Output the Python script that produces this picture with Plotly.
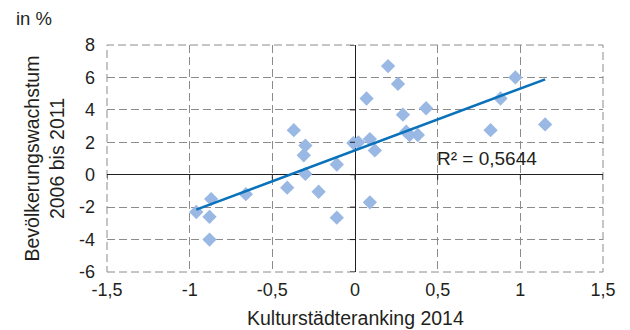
import numpy as np
import plotly.graph_objects as go

# Culture-city ranking score vs. population growth 2006–2011 (%)
ranking = [-0.96, -0.87, -0.88, -0.88, -0.66, -0.41, -0.37, -0.30, -0.31, -0.30,
           -0.22, -0.11, -0.11, -0.01, 0.02, 0.20, 0.26, 0.07, 0.43, 0.29,
           0.31, 0.33, 0.38, 0.09, 0.12, 0.09, 0.82, 0.88, 0.97, 1.15]
growth = [-2.3, -1.5, -2.6, -4.0, -1.2, -0.8, 2.75, 1.8, 1.2, 0.05,
          -1.05, 0.63, -2.65, 1.95, 2.0, 6.7, 5.6, 4.7, 4.1, 3.7,
          2.65, 2.45, 2.45, 2.2, 1.5, -1.7, 2.75, 4.7, 6.0, 3.1]

x_ticks = [-1.5, -1.0, -0.5, 0.0, 0.5, 1.0, 1.5]
x_tick_labels = ["-1,5", "-1", "-0,5", "0", "0,5", "1", "1,5"]
y_ticks = [-6, -4, -2, 0, 2, 4, 6, 8]
y_tick_labels = ["-6", "-4", "-2", "0", "2", "4", "6", "8"]
r2_label = "R² = 0,5644"

FONT = "Liberation Sans, Arial, sans-serif"
TXT = "#231f20"
GRID = "#8c8c8c"
DASH = "8px,4px"

# linear trend over the observed ranking range
slope, intercept = np.polyfit(ranking, growth, 1)
trend_x = np.array([min(ranking), max(ranking)])
trend_y = slope * trend_x + intercept

fig = go.Figure()
fig.add_trace(go.Scatter(
    x=ranking, y=growth, mode="markers",
    marker=dict(symbol="diamond", size=11, color="#9ab8e4", line=dict(width=0)),
    hoverinfo="skip", showlegend=False,
))
fig.add_trace(go.Scatter(
    x=trend_x, y=trend_y, mode="lines",
    line=dict(color="#0a72ba", width=2.5),
    hoverinfo="skip", showlegend=False,
))

# dashed frame around the plotting area
shapes = [dict(type="rect", xref="paper", yref="paper", x0=0, x1=1, y0=0, y1=1,
               line=dict(color=GRID, width=1, dash=DASH), layer="below")]
# small tick marks on the zero axes
for t in x_ticks:
    shapes.append(dict(type="line", xref="x", yref="y", x0=t, x1=t,
                       ysizemode="pixel", yanchor=0, y0=0, y1=-5,
                       line=dict(color=TXT, width=1)))
for t in y_ticks:
    shapes.append(dict(type="line", xref="x", yref="y", y0=t, y1=t,
                       xsizemode="pixel", xanchor=0, x0=0, x1=-5,
                       line=dict(color=TXT, width=1)))

grid_common = dict(
    showgrid=True, gridcolor=GRID, gridwidth=1, griddash=DASH,
    zeroline=True, zerolinecolor=TXT, zerolinewidth=1.3,
    showline=False, ticks="",
    tickfont=dict(family=FONT, size=18, color=TXT),
)

fig.update_layout(
    width=630, height=330,
    margin=dict(l=107, r=27, t=45, b=58),
    paper_bgcolor="white", plot_bgcolor="white",
    font=dict(family=FONT, color=TXT),
    xaxis=dict(range=[-1.5, 1.5], tickvals=x_ticks, ticktext=x_tick_labels,
               ticklabelstandoff=5, **grid_common),
    yaxis=dict(range=[-6, 8], tickvals=y_ticks, ticktext=y_tick_labels,
               ticklabelstandoff=11, **grid_common),
    shapes=shapes,
    annotations=[
        dict(text=r2_label, x=0.80, y=1.0, xref="x", yref="y",
             showarrow=False, font=dict(family=FONT, size=19, color=TXT)),
        dict(text="in %", x=0, y=1, xref="paper", yref="paper",
             xanchor="left", yanchor="middle", xshift=-93, yshift=27,
             showarrow=False, font=dict(family=FONT, size=18.5, color=TXT)),
        dict(text="Bevölkerungswachstum<br>2006 bis 2011", textangle=-90,
             x=0, y=0.5, xref="paper", yref="paper", xanchor="center",
             yanchor="middle", xshift=-63, yshift=0,
             showarrow=False, font=dict(family=FONT, size=19.5, color=TXT)),
        dict(text="Kulturstädteranking 2014", x=0.5, y=0, xref="paper",
             yref="paper", xanchor="center", yanchor="middle", yshift=-46,
             showarrow=False, font=dict(family=FONT, size=19.5, color=TXT)),
    ],
)

fig.write_html("out.html")
